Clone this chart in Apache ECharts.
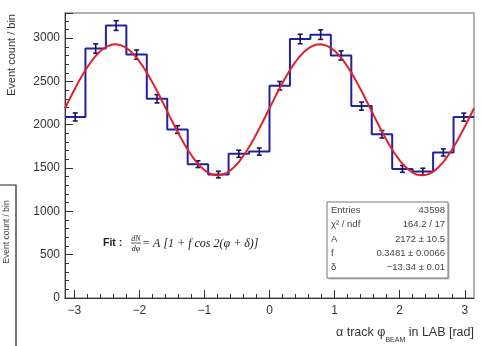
<!DOCTYPE html>
<html>
<head>
<meta charset="utf-8">
<script src="https://cdn.jsdelivr.net/npm/echarts@6/dist/echarts.min.js"></script>
<style>
  html, body { margin: 0; padding: 0; background: #fff; }
  #chart { width: 481px; height: 346px; }
</style>
</head>
<body>
<div id="chart"></div>
<script>
// Histogram of alpha-track azimuth (20 bins over -pi..pi)
const binCounts = [2090, 2880, 3145, 2810, 2300, 1945, 1545, 1425, 1665, 1690,
                   2450, 2990, 3040, 2800, 2215, 1890, 1490, 1460, 1680, 2088];
const binErrors = [46, 54, 56, 53, 48, 44, 39, 38, 41, 41,
                   49, 55, 55, 53, 47, 43, 39, 38, 41, 46];

// Fit parameters: dN/dphi = A [1 + f cos 2(phi + delta)]
const fitA = 2172;
const fitF = 0.3481;
const fitDelta = -13.34;

// Stats box rows
const statLabels = ['Entries', 'χ² / ndf', 'A', 'f', 'δ'];
const statValues = ['43598', '164.2 / 17', '2172 ± 10.5', '0.3481 ± 0.0066', '−13.34 ± 0.01'];

// Axis ticks
const xMajorTicks = [-3, -2, -1, 0, 1, 2, 3];
const xMinorTicks = [];
for (let t = -3.0; t <= 3.0001; t += 0.2) xMinorTicks.push(Math.round(t * 10) / 10);
const yMax = 3290;

const xMin = -Math.PI, xMax = Math.PI;
const binWidth = (xMax - xMin) / binCounts.length;

// Step outline of the histogram
const stepData = [];
binCounts.forEach((v, i) => {
  const lo = xMin + i * binWidth;
  stepData.push([lo, v], [lo + binWidth, v]);
});

// Error bars at bin centres
const errData = binCounts.map((v, i) => [xMin + (i + 0.5) * binWidth, v, binErrors[i]]);

// Fit curve across the full range
const fitData = [];
const nFit = 300;
for (let k = 0; k <= nFit; k++) {
  const phi = xMin + (xMax - xMin) * k / nFit;
  fitData.push([phi, fitA * (1 + fitF * Math.cos(2 * (phi + fitDelta)))]);
}

const chart = echarts.init(document.getElementById('chart'), null, { renderer: 'canvas' });

const labelFont = 'Liberation Sans, Arial, sans-serif';
const axisColor = '#333';

// Stats box graphics
const boxX = 327, boxY = 202, boxW = 121, boxH = 76;
const statGraphics = [
  { type: 'rect', shape: { x: boxX + 1.5, y: boxY + 1.5, width: boxW, height: boxH },
    style: { fill: '#bbb' }, z: 10 },
  { type: 'rect', shape: { x: boxX, y: boxY, width: boxW, height: boxH },
    style: { fill: '#fff', stroke: '#777', lineWidth: 1 }, z: 11 }
];
statLabels.forEach((lab, i) => {
  const y = boxY + 8.5 + i * 14.3;
  statGraphics.push({ type: 'text', x: boxX + 4, y: y, z: 12,
    style: { text: lab, font: '9.5px ' + labelFont, fill: '#444', align: 'left', verticalAlign: 'middle' } });
  statGraphics.push({ type: 'text', x: boxX + boxW - 3, y: y, z: 12,
    style: { text: statValues[i], font: '9.5px ' + labelFont, fill: '#444', align: 'right', verticalAlign: 'middle' } });
});

const serif = 'Liberation Serif, Times New Roman, serif';

chart.setOption({
  animation: false,
  backgroundColor: '#fff',
  grid: { left: 65, right: 7, top: 13, bottom: 48, show: true, borderColor: '#999', borderWidth: 1.5, backgroundColor: 'transparent' },
  xAxis: [
    {
      type: 'value', min: xMin, max: xMax,
      axisLine: { show: true, onZero: false, lineStyle: { color: axisColor, width: 1 } },
      axisTick: { show: true, inside: true, length: 8, customValues: xMajorTicks, lineStyle: { color: axisColor } },
      axisLabel: { show: true, customValues: xMajorTicks, margin: 7, color: axisColor,
        fontSize: 12, fontFamily: labelFont,
        formatter: v => String(Math.round(v)).replace('-', '−') },
      splitLine: { show: false }
    },
    {
      type: 'value', min: xMin, max: xMax, position: 'bottom',
      axisLine: { show: false, onZero: false },
      axisTick: { show: true, inside: true, length: 4, customValues: xMinorTicks, lineStyle: { color: axisColor } },
      axisLabel: { show: false },
      splitLine: { show: false }
    }
  ],
  yAxis: {
    type: 'value', min: 0, max: yMax, interval: 500,
    axisLine: { show: true, onZero: false, lineStyle: { color: axisColor, width: 1 } },
    axisTick: { show: true, inside: true, length: 8, lineStyle: { color: axisColor } },
    minorTick: { show: true, splitNumber: 5, length: 4, lineStyle: { color: axisColor } },
    axisLabel: { margin: 5, color: axisColor, fontSize: 12, fontFamily: labelFont,
      showMaxLabel: false, formatter: v => String(v) },
    splitLine: { show: false }
  },
  series: [
    {
      type: 'line', data: stepData, xAxisIndex: 0, showSymbol: false, symbol: 'none',
      lineStyle: { color: '#2222a0', width: 2 }, z: 3
    },
    {
      type: 'custom', data: errData, xAxisIndex: 0, z: 4,
      renderItem: (params, api) => {
        const x = api.value(0), v = api.value(1), e = api.value(2);
        const top = api.coord([x, v + e]);
        const bot = api.coord([x, v - e]);
        const st = { stroke: '#15155a', lineWidth: 1.6 };
        return {
          type: 'group', children: [
            { type: 'line', shape: { x1: top[0], y1: top[1], x2: bot[0], y2: bot[1] }, style: st },
            { type: 'line', shape: { x1: top[0] - 2.5, y1: top[1], x2: top[0] + 2.5, y2: top[1] }, style: st },
            { type: 'line', shape: { x1: bot[0] - 2.5, y1: bot[1], x2: bot[0] + 2.5, y2: bot[1] }, style: st }
          ]
        };
      }
    },
    {
      type: 'line', data: fitData, xAxisIndex: 0, showSymbol: false, symbol: 'none', smooth: false,
      lineStyle: { color: '#e3202a', width: 2 }, z: 5
    }
  ],
  graphic: [
    // y-axis title
    { type: 'text', x: 12, y: 55, rotation: Math.PI / 2,
      style: { text: 'Event count / bin', font: '11px ' + labelFont, fill: '#333', align: 'center', verticalAlign: 'middle' } },
    // x-axis title with subscript
    { type: 'text', x: 474, y: 326,
      style: {
        text: '{m|α track φ}{s|BEAM}{m| in LAB [rad]}', align: 'right', verticalAlign: 'top',
        rich: {
          m: { fontSize: 12.5, fontFamily: labelFont, fill: '#333', lineHeight: 14, verticalAlign: 'top' },
          s: { fontSize: 7, fontFamily: labelFont, fill: '#333', lineHeight: 8, padding: [11, 0, 0, 0], verticalAlign: 'top' }
        }
      } },
    // fit formula
    { type: 'text', x: 103, y: 243,
      style: { text: 'Fit :', font: 'bold 10.5px ' + labelFont, fill: '#222', align: 'left', verticalAlign: 'middle' } },
    { type: 'text', x: 136, y: 238.5,
      style: { text: 'dN', font: 'italic 8px ' + serif, fill: '#222', align: 'center', verticalAlign: 'middle' } },
    { type: 'line', shape: { x1: 131, y1: 243, x2: 141, y2: 243 }, style: { stroke: '#333', lineWidth: 0.8 } },
    { type: 'text', x: 136, y: 248.5,
      style: { text: 'dφ', font: 'italic 8px ' + serif, fill: '#222', align: 'center', verticalAlign: 'middle' } },
    { type: 'text', x: 142, y: 243.5,
      style: { text: '= A [1 + f cos 2(φ + δ)]', font: 'italic 12px ' + serif, fill: '#222', align: 'left', verticalAlign: 'middle' } },
    // neighbouring panel edge on the left
    { type: 'polyline', shape: { points: [[0, 185], [16, 185], [16, 346]] },
      style: { stroke: '#222', lineWidth: 1.2, fill: null } },
    { type: 'text', x: 7, y: 232, rotation: Math.PI / 2,
      style: { text: 'Event count / bin', font: '8.5px ' + labelFont, fill: '#444', align: 'center', verticalAlign: 'middle' } },
    ...statGraphics
  ]
});
</script>
</body>
</html>
